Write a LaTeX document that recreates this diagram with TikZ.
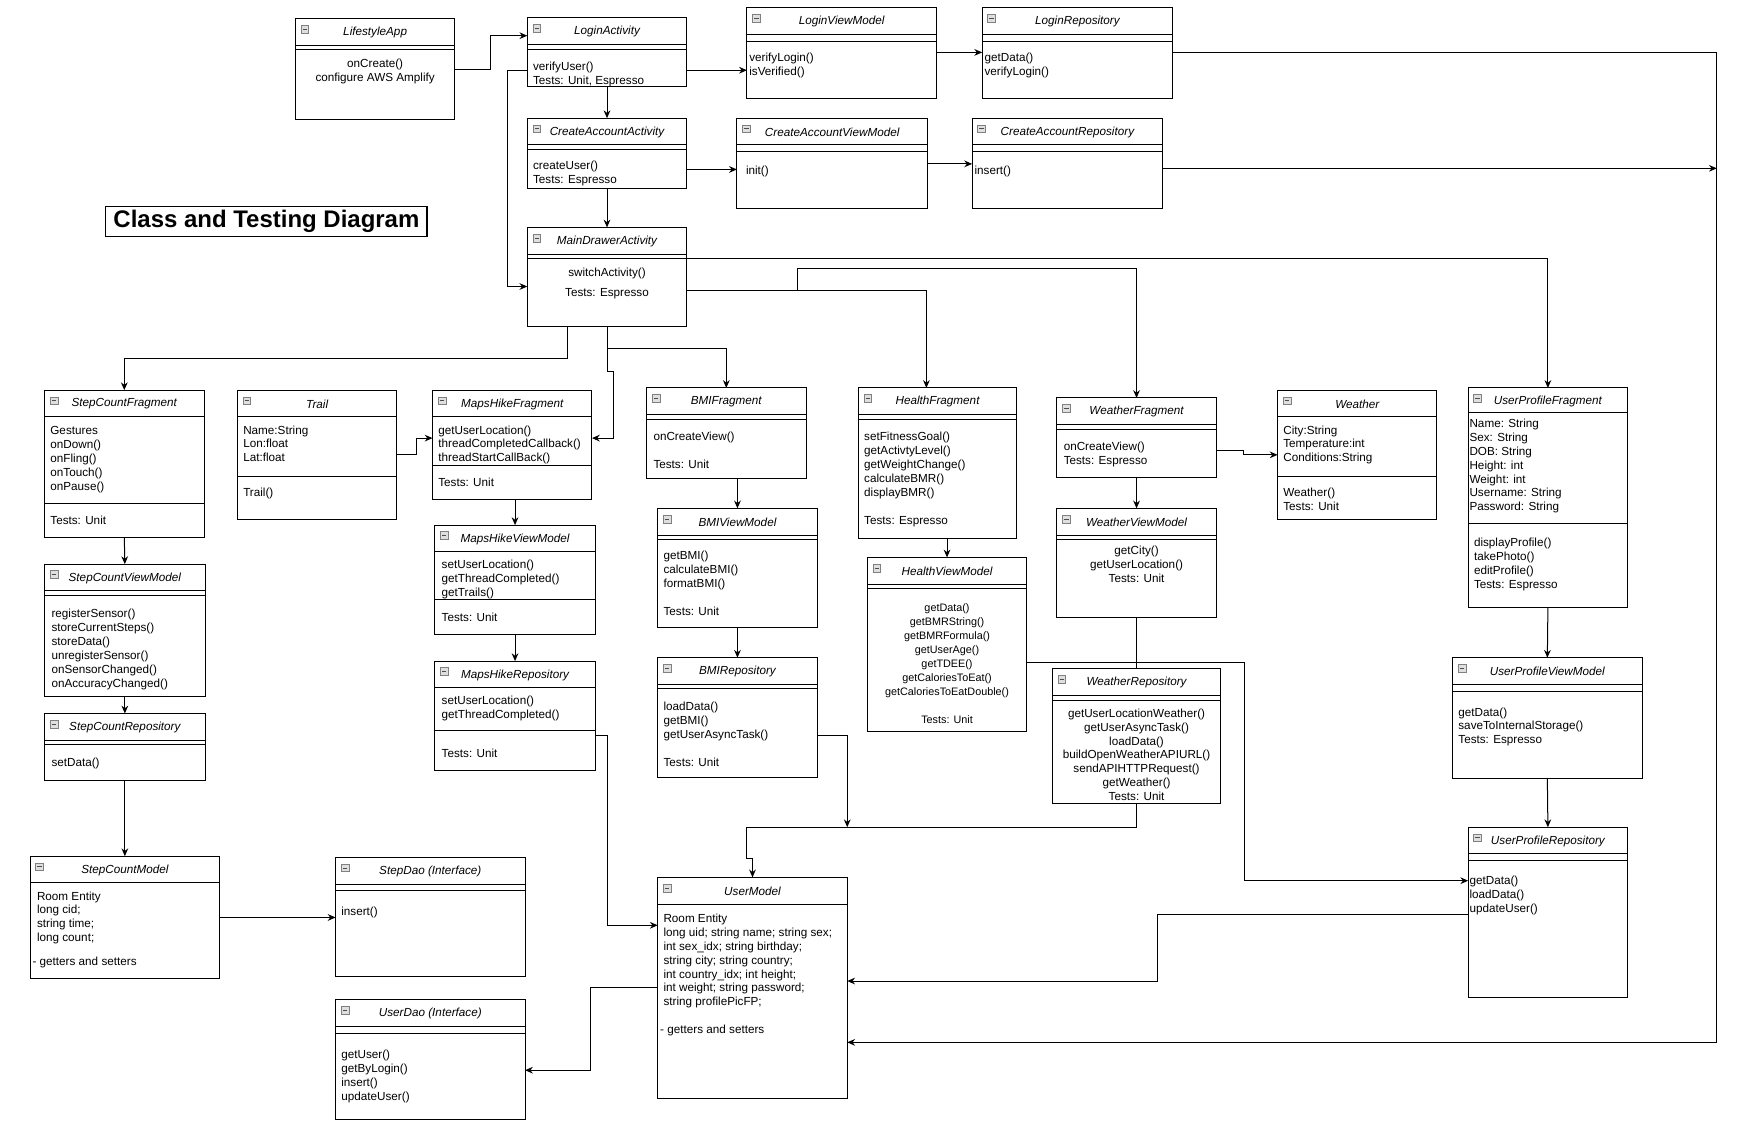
\documentclass[tikz,border=0pt]{standalone}
\usepackage{fontspec}
\setmainfont{Liberation Sans}
\usetikzlibrary{calc, arrows.meta}

\tikzset{
  umlframe/.style={draw, line width=0.9pt, anchor=north west, inner sep=0pt, outer sep=0pt, fill=white},
  umltitle/.style={inner sep=0pt, font=\fontsize{10.5}{12.5}\selectfont\itshape},
  iconbox/.style={draw=gray, fill=gray!25, line width=0.6pt},
  ops/.style={anchor=north west, inner sep=0pt, yshift=-2pt, align=left, font=\fontsize{10.5}{12.5}\selectfont},
  opsc/.style={anchor=north, inner sep=0pt, yshift=-2pt, align=center, font=\fontsize{10.5}{12.5}\selectfont},
  arr/.style={-{Stealth[length=7pt,width=6pt]}, line width=0.9pt},
  link/.style={line width=0.9pt}
}

% class box: name, left, top, width, height, title, line offsets
\newcommand{\umlbox}[7]{%
  \node[umlframe, minimum width=#4pt, minimum height=#5pt] (#1) at (#2,#3) {};
  \node[umltitle] (#1-t) at ($(#1.north)+(0,12.5)$) {#6};
  \draw[iconbox] ($(#1.north west)+(5,6)$) rectangle ++(7,7);
  \draw[line width=0.6pt, black!70] ($(#1.north west)+(6.5,9.5)$) -- ++(4,0);
  \foreach \d in {#7} {\draw[line width=0.9pt] ($(#1.north west)+(0,\d)$) -- ($(#1.north east)+(0,\d)$);}
}

\begin{document}
\begin{tikzpicture}[x=1pt, y=-1pt]
\useasboundingbox (0,0) rectangle (1568,1018);

% title
\node[draw, line width=1pt, inner sep=0pt, minimum width=288pt, minimum height=27pt,
  font=\fontsize{21.5}{24}\selectfont\bfseries] (heading) at (239,198.5) {Class and Testing Diagram};

% login and account row
\umlbox{lifestyle}{265}{17}{143}{90}{LifestyleApp}{24,27}
\node[opsc] (lifestyle-o) at (336.5,50.5) {onCreate()\\configure AWS Amplify};
\umlbox{loginact}{473}{16}{143}{62}{LoginActivity}{24,28}
\node[ops] (loginact-o) at (478,53.5) {verifyUser()\\Tests: Unit, Espresso};
\umlbox{loginvm}{670}{7}{170}{81}{LoginViewModel}{24,30}
\node[ops] (loginvm-o) at (672,45.5) {verifyLogin()\\isVerified()};
\umlbox{loginrepo}{881}{7}{171}{81}{LoginRepository}{24,30}
\node[ops] (loginrepo-o) at (883,45.5) {getData()\\verifyLogin()};
\umlbox{createact}{473}{106}{143}{63}{CreateAccountActivity}{24,28}
\node[ops] (createact-o) at (478,142.5) {createUser()\\Tests: Espresso};
\umlbox{createvm}{661}{106}{171}{81}{CreateAccountViewModel}{24,30}
\node[ops] (createvm-o) at (669,146.5) {init()};
\umlbox{createrepo}{872}{106}{171}{81}{CreateAccountRepository}{24,30}
\node[ops] (createrepo-o) at (874,146.5) {insert()};
\umlbox{maindrawer}{473}{204}{143}{89}{MainDrawerActivity}{24,28}
\node[opsc] (maindrawer-o) at (544.5,238.5) {switchActivity()\\[5.5pt]Tests: Espresso};

% fragments
\umlbox{stepfrag}{40}{350}{143}{132}{StepCountFragment}{24,102}
\node[ops] (stepfrag-o) at (45,380.5) {Gestures\\onDown()\\onFling()\\onTouch()\\onPause()};
\node[ops] (stepfrag-x) at (45,460.5) {Tests: Unit};
\umlbox{trail}{213}{350}{143}{116}{Trail}{24,77}
\node[ops] (trail-a) at (218,379.5) {Name:String\\Lon:float\\Lat:float};
\node[ops] (trail-o) at (218,435.5) {Trail()};
\umlbox{mapsfrag}{388}{350}{143}{98}{MapsHikeFragment}{24,68}
\node[ops] (mapsfrag-o) at (393,379.5) {getUserLocation()\\threadCompletedCallback()\\threadStartCallBack()};
\node[ops] (mapsfrag-x) at (393,426.5) {Tests: Unit};
\umlbox{bmifrag}{580}{348}{143}{81}{BMIFragment}{24,28}
\node[ops] (bmifrag-o) at (586,385.5) {onCreateView()\\[12.5pt]Tests: Unit};
\umlbox{healthfrag}{770}{348}{142}{135}{HealthFragment}{24,28}
\node[ops] (healthfrag-o) at (775,385.5) {setFitnessGoal()\\getActivtyLevel()\\getWeightChange()\\calculateBMR()\\displayBMR()\\[12.5pt]Tests: Espresso};
\umlbox{weatherfrag}{948}{357}{143}{71}{WeatherFragment}{24,28}
\node[ops] (weatherfrag-o) at (954,394.5) {onCreateView()\\Tests: Espresso};
\umlbox{weather}{1146}{350}{143}{116}{Weather}{24,77}
\node[ops] (weather-a) at (1151,379.5) {City:String\\Temperature:int\\Conditions:String};
\node[ops] (weather-o) at (1151,435.5) {Weather()\\Tests: Unit};
\umlbox{userfrag}{1317}{348}{143}{197}{UserProfileFragment}{22,122}
\node[ops] (userfrag-a) at (1318,373.5) {Name: String\\Sex: String\\DOB: String\\Height: int\\Weight: int\\Username: String\\Password: String};
\node[ops] (userfrag-o) at (1322,480.5) {displayProfile()\\takePhoto()\\editProfile()\\Tests: Espresso};

% view models
\umlbox{stepvm}{40}{506}{144}{119}{StepCountViewModel}{24,28}
\node[ops] (stepvm-o) at (46,544.5) {registerSensor()\\storeCurrentSteps()\\storeData()\\unregisterSensor()\\onSensorChanged()\\onAccuracyChanged()};
\umlbox{mapsvm}{390}{471}{144}{98}{MapsHikeViewModel}{24,67}
\node[ops] (mapsvm-o) at (396,500.5) {setUserLocation()\\getThreadCompleted()\\getTrails()};
\node[ops] (mapsvm-x) at (396,547.5) {Tests: Unit};
\umlbox{bmivm}{590}{456}{143}{107}{BMIViewModel}{24,28}
\node[ops] (bmivm-o) at (595,492.5) {getBMI()\\calculateBMI()\\formatBMI()\\[12.5pt]Tests: Unit};
\umlbox{healthvm}{778}{500}{143}{156}{HealthViewModel}{24,28}
\node[opsc, font=\fontsize{9.7}{12.5}\selectfont] (healthvm-o) at (849.5,539.5) {getData()\\getBMRString()\\getBMRFormula()\\getUserAge()\\getTDEE()\\getCaloriesToEat()\\getCaloriesToEatDouble()\\[12.5pt]Tests: Unit};
\umlbox{weathervm}{948}{456}{143}{98}{WeatherViewModel}{24,28}
\node[opsc] (weathervm-o) at (1019.5,487.5) {getCity()\\getUserLocation()\\Tests: Unit};
\umlbox{uservm}{1303}{590}{170}{108}{UserProfileViewModel}{24,30}
\node[ops] (uservm-o) at (1308,632.5) {getData()\\saveToInternalStorage()\\Tests: Espresso};

% repositories
\umlbox{steprepo}{40}{640}{144}{60}{StepCountRepository}{24,28}
\node[ops] (steprepo-o) at (46,677.5) {setData()};
\umlbox{mapsrepo}{390}{593}{144}{98}{MapsHikeRepository}{24,62}
\node[ops] (mapsrepo-o) at (396,622.5) {setUserLocation()\\getThreadCompleted()};
\node[ops] (mapsrepo-x) at (396,669.5) {Tests: Unit};
\umlbox{bmirepo}{590}{590}{143}{107}{BMIRepository}{24,28}
\node[ops] (bmirepo-o) at (595,627.5) {loadData()\\getBMI()\\getUserAsyncTask()\\[12.5pt]Tests: Unit};
\umlbox{weatherrepo}{944}{600}{151}{121}{WeatherRepository}{24,28}
\node[opsc] (weatherrepo-o) at (1019.5,633.5) {getUserLocationWeather()\\getUserAsyncTask()\\loadData()\\buildOpenWeatherAPIURL()\\sendAPIHTTPRequest()\\getWeather()\\Tests: Unit};
\umlbox{userrepo}{1317}{742}{143}{153}{UserProfileRepository}{24,30}
\node[ops] (userrepo-o) at (1318,783.5) {getData()\\loadData()\\updateUser()};

% models and daos
\umlbox{stepmodel}{27}{768}{170}{110}{StepCountModel}{24}
\node[ops] (stepmodel-a) at (33,797.5) {Room Entity\\long cid;\\string time;\\long count;};
\node[ops] (stepmodel-o) at (29,856.5) {- getters and setters};
\umlbox{stepdao}{301}{769}{170}{107}{StepDao (Interface)}{24,30}
\node[ops] (stepdao-o) at (306,811.5) {insert()};
\umlbox{userdao}{301}{897}{170}{107}{UserDao (Interface)}{24,30}
\node[ops] (userdao-o) at (306,939.5) {getUser()\\getByLogin()\\insert()\\updateUser()};
\umlbox{usermodel}{590}{787}{170}{198}{UserModel}{24}
\node[ops] (usermodel-a) at (595,817.5) {Room Entity\\long uid; string name; string sex;\\int sex\_idx; string birthday;\\string city; string country;\\int country\_idx; int height;\\int weight; string password;\\string profilePicFP;};
\node[ops] (usermodel-o) at (592,917.5) {- getters and setters};

% bus points
\coordinate (busR) at (1540,935);
\coordinate (split) at (715,261);
\coordinate (bmisplit) at (544.5,313);
\coordinate (ubus) at (670,742);

% connectors, top part
\draw[arr] (lifestyle.east |- 0,62) -- ++(32,0) |- (loginact.west |- 0,32);
\draw[arr] (loginact.west |- 0,63) -- ++(-18,0) |- (maindrawer.west |- 0,257);
\draw[arr] (loginact.east |- 0,63) -- (loginvm.west |- 0,63);
\draw[arr] (loginvm.east |- 0,47) -- (loginrepo.west |- 0,47);
\draw[arr] (loginrepo.east |- 0,47) -| (busR) -- (usermodel.east |- busR);
\draw[arr] (loginact.south) -- (createact.north);
\draw[arr] (createact.east |- 0,152) -- (createvm.west |- 0,152);
\draw[arr] (createvm.east |- 0,147) -- (createrepo.west |- 0,147);
\draw[arr] (createrepo.east |- 0,151) -- (busR |- 0,151);
\draw[arr] (createact.south) -- (maindrawer.north);

% main drawer to fragments
\draw[arr] (maindrawer.east |- 0,232) -| (userfrag.north);
\draw[arr] (maindrawer.east |- 0,261) -| (healthfrag.north -| 831,0);
\draw[arr] (split) |- (weatherfrag.north |- 0,241) -- (weatherfrag.north);
\draw[arr] (maindrawer.south -| 509,0) |- (stepfrag.north |- 0,322) -- (stepfrag.north);
\draw[arr] (maindrawer.south) -- (544.5,333) -- (550,333) |- (mapsfrag.east |- 0,393);
\draw[arr] (bmisplit) -| (bmifrag.north);

% step count chain
\draw[arr] (stepfrag.south) -- (stepvm.north);
\draw[arr] (stepvm.south) -- (steprepo.north);
\draw[arr] (steprepo.south) -- (stepmodel.north);
\draw[arr] (stepmodel.east |- 0,823) -- (stepdao.west |- 0,823);

% maps chain
\draw[arr] (trail.east |- 0,408) -- ++(18,0) |- (mapsfrag.west |- 0,393);
\draw[arr] (mapsvm.north |- mapsfrag.south) -- (mapsvm.north);
\draw[arr] (mapsvm.south) -- (mapsrepo.north);
\draw[arr] (mapsrepo.east |- 0,660) -- ++(11,0) |- (usermodel.west |- 0,830);

% bmi chain
\draw[arr] (bmivm.north |- bmifrag.south) -- (bmivm.north);
\draw[arr] (bmivm.south) -- (bmirepo.north);
\draw[arr] (bmirepo.east |- 0,660) -| (ubus -| usermodel.east);

% health chain
\draw[arr] (healthvm.north |- healthfrag.south) -- (healthvm.north);
\draw[arr] (healthvm.east |- 0,594) -- ++(195,0) |- (userrepo.west |- 0,790);

% weather chain
\draw[arr] (weatherfrag.south) -- (weathervm.north);
\draw[arr] (weatherfrag.east |- 0,404) -- ++(24,0) |- (weather.west |- 0,408);
\draw[link] (weathervm.south) -- (weatherrepo.north);
\draw[arr] (weatherrepo.south) |- (ubus) -- (670,770) -| (usermodel.north);

% user profile chain
\draw[arr] (userfrag.south) -- (uservm.north);
\draw[arr] (uservm.south) -- (userrepo.north);
\draw[arr] (userrepo.west |- 0,820) -- ++(-279,0) |- (usermodel.east |- 0,880);
\draw[arr] (usermodel.west |- 0,886) -- ++(-60,0) |- (userdao.east |- 0,960);
\end{tikzpicture}
\end{document}
